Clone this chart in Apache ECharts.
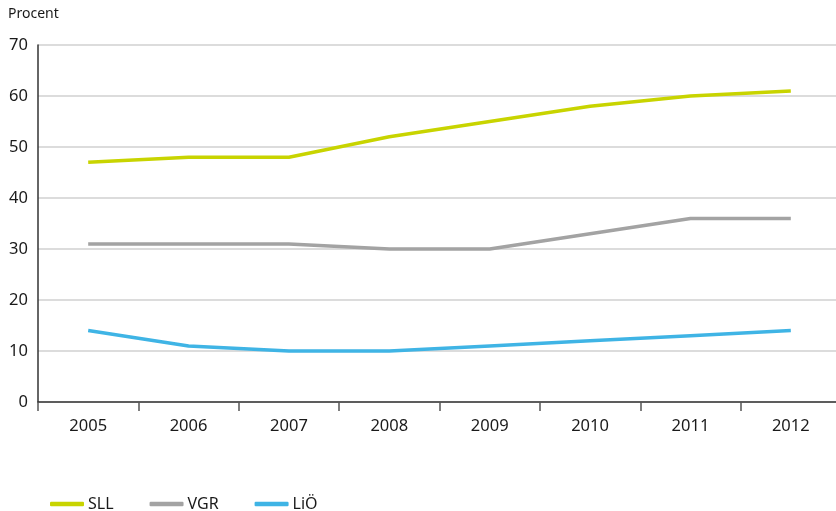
<!DOCTYPE html>
<html>
<head>
<meta charset="utf-8">
<script src="https://cdn.jsdelivr.net/npm/echarts@6/dist/echarts.min.js"></script>
<style>
  html, body { margin: 0; padding: 0; background: #fff; overflow: hidden; }
  /* the plot runs slightly past the right edge of the page, so the canvas is a bit wider */
  #chart { width: 841px; height: 511px; }
</style>
</head>
<body>
<div id="chart"></div>
<script>
const years = ['2005', '2006', '2007', '2008', '2009', '2010', '2011', '2012'];
const sll = [47, 48, 48, 52, 55, 58, 60, 61];
const vgr = [31, 31, 31, 30, 30, 33, 36, 36];
const lio = [14, 11, 10, 10, 11, 12, 13, 14];
const seriesNames = ['SLL', 'VGR', 'LiÖ'];
const seriesColors = ['#c8d400', '#a3a3a3', '#3fb4e5'];

const font = 'Noto Sans';
const chart = echarts.init(document.getElementById('chart'), null, { renderer: 'canvas' });

const mkLine = (name, data, color) => ({
  name: name,
  type: 'line',
  data: data,
  symbol: 'none',
  smooth: false,
  lineStyle: { color: color, width: 3.5 },
  itemStyle: { color: color }
});

chart.setOption({
  animation: false,
  textStyle: { fontFamily: font },
  graphic: [{
    type: 'text', left: 8, top: 7,
    style: { text: 'Procent', font: '14px "' + font + '"', fill: '#1a1a1a' }
  }],
  grid: { left: 38, top: 45, right: 0, height: 357, containLabel: false },
  legend: {
    left: 45, top: 491,
    icon: 'roundRect',
    itemWidth: 34, itemHeight: 4.5,
    itemGap: 36,
    textStyle: { fontFamily: font, fontSize: 16, color: '#1a1a1a', padding: [0, 0, 0, -1] },
    data: seriesNames
  },
  xAxis: {
    type: 'category',
    data: years,
    boundaryGap: true,
    axisLine: { lineStyle: { color: '#333', width: 1.5 } },
    axisTick: { show: true, length: 9, lineStyle: { color: '#555', width: 1.5 } },
    axisLabel: { fontFamily: font, fontSize: 16.5, color: '#1a1a1a', margin: 16 }
  },
  yAxis: {
    type: 'value',
    min: 0, max: 70, interval: 10,
    axisLine: { show: true, lineStyle: { color: '#333', width: 1.5 } },
    axisTick: { show: false },
    axisLabel: { fontFamily: font, fontSize: 16.5, color: '#1a1a1a', margin: 10 },
    splitLine: { lineStyle: { color: '#d0d0d0', width: 1.5 } }
  },
  series: [
    mkLine(seriesNames[0], sll, seriesColors[0]),
    mkLine(seriesNames[1], vgr, seriesColors[1]),
    mkLine(seriesNames[2], lio, seriesColors[2])
  ]
});
</script>
</body>
</html>
